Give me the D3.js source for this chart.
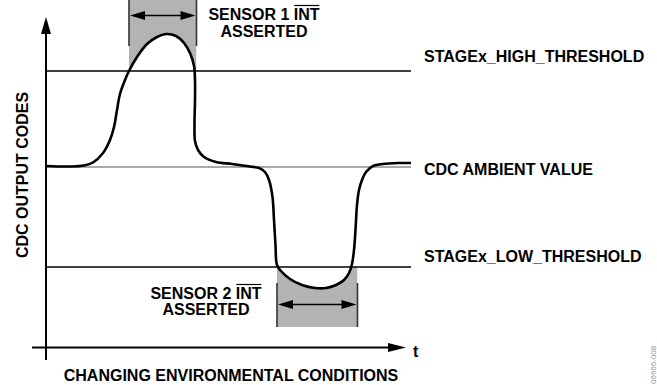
<!DOCTYPE html>
<html>
<head>
<meta charset="utf-8">
<script src="https://cdn.jsdelivr.net/npm/d3@7"></script>
<style>
  html, body { margin: 0; padding: 0; background: #fff; }
  svg { display: block; }
  text { font-family: "Liberation Sans", Arial, Helvetica, sans-serif; font-weight: bold; fill: #000; }
</style>
</head>
<body>
<svg id="chart" width="657" height="385"></svg>
<script>
// ---- Data (time units, output-code units) ----
const timeDomain = [0, 365];
const codeDomain = [0, 330];
const ambientCode = 180;
const highThreshold = 276;
const lowThreshold = 80;

const curveTime = [0, 24, 38, 47, 57, 64, 68, 71, 74, 79, 83, 91, 101, 111, 120, 130, 138, 144, 148, 149, 149, 148.5, 149, 152, 158, 170, 186, 204, 213, 219, 223, 226.5, 228, 229.5, 231, 235, 244, 256, 269, 280, 290, 298, 303, 306, 308, 309.5, 311, 313, 316, 320, 327, 337, 352, 365];
const curveCode = [181, 180.5, 181.5, 184.5, 194, 207, 220, 237, 253, 267, 276, 290, 303, 310, 313, 311, 304, 294, 281, 267, 247, 222, 206, 197, 190, 185, 183, 180.5, 179, 175, 167, 150, 127, 102, 82, 76, 68, 62, 59, 59, 62, 67, 74, 83, 97, 117, 142, 157, 167, 175, 181, 183, 184, 184];

// intervals where the INT output is asserted
const sensor1Interval = [83, 150.5];
const sensor2Interval = [231, 311.5];

const labels = {
  high: "STAGEx_HIGH_THRESHOLD",
  ambient: "CDC AMBIENT VALUE",
  low: "STAGEx_LOW_THRESHOLD",
  xTitle: "CHANGING ENVIRONMENTAL CONDITIONS",
  yTitle: "CDC OUTPUT CODES",
  t: "t",
  watermark: "06666-008"
};

// ---- Scales ----
const svg = d3.select("#chart");
const x = d3.scaleLinear().domain(timeDomain).range([46, 411]);
const y = d3.scaleLinear().domain(codeDomain).range([347, 17]);

const pts = curveTime.map((t, i) => [t, curveCode[i]]);
const curveType = d3.curveCatmullRom.alpha(0.5);

const defs = svg.append("defs");

// ---- Shaded asserted regions ----
function shaded(id, interval, yTop, yBot, threshold) {
  const x0 = x(interval[0]), x1 = x(interval[1]);
  defs.append("clipPath").attr("id", id)
    .append("rect").attr("x", x0).attr("y", yTop).attr("width", x1 - x0).attr("height", yBot - yTop);
  const g = svg.append("g").attr("clip-path", `url(#${id})`);
  g.append("rect").attr("x", x0).attr("y", yTop).attr("width", x1 - x0).attr("height", yBot - yTop)
    .attr("fill", "#b3b3b3");
  const area = d3.area().curve(curveType)
    .x(d => x(d[0])).y0(y(threshold)).y1(d => y(d[1]));
  g.append("path").datum(pts).attr("d", area).attr("fill", "#fff");
}
shaded("clip1", sensor1Interval, 0, y(highThreshold), highThreshold);
shaded("clip2", sensor2Interval, y(lowThreshold), 327, lowThreshold);

// vertical markers and double arrows
function doubleArrow(interval, yTop, yBot, yArrow) {
  const x0 = x(interval[0]), x1 = x(interval[1]);
  [x0, x1].forEach(xx => svg.append("line")
    .attr("x1", xx).attr("x2", xx).attr("y1", yTop).attr("y2", yBot)
    .attr("stroke", "#333").attr("stroke-width", 1.6));
  svg.append("line").attr("x1", x0 + 8).attr("x2", x1 - 8).attr("y1", yArrow).attr("y2", yArrow)
    .attr("stroke", "#000").attr("stroke-width", 1.6);
  const L = 15, H = 4.5;
  svg.append("path").attr("d", `M${x0 + 1},${yArrow}L${x0 + 1 + L},${yArrow - H}L${x0 + 1 + L},${yArrow + H}Z`).attr("fill", "#000");
  svg.append("path").attr("d", `M${x1 - 1},${yArrow}L${x1 - 1 - L},${yArrow - H}L${x1 - 1 - L},${yArrow + H}Z`).attr("fill", "#000");
}
doubleArrow(sensor1Interval, 0, 46, 15.5);
doubleArrow(sensor2Interval, 283, 327, 304.5);

// ---- Threshold & ambient lines ----
svg.append("line").attr("x1", x(0)).attr("x2", x(365)).attr("y1", y(ambientCode)).attr("y2", y(ambientCode))
  .attr("stroke", "#aaa").attr("stroke-width", 1.8);
[highThreshold, lowThreshold].forEach(v => svg.append("line")
  .attr("x1", x(0)).attr("x2", x(365)).attr("y1", y(v)).attr("y2", y(v))
  .attr("stroke", "#000").attr("stroke-width", 1.6));

// ---- Curve ----
const line = d3.line().curve(curveType).x(d => x(d[0])).y(d => y(d[1]));
svg.append("path").datum(pts).attr("d", line)
  .attr("fill", "none").attr("stroke", "#000").attr("stroke-width", 2.6).attr("stroke-linejoin", "round");

// ---- Axes ----
svg.append("line").attr("x1", 46).attr("x2", 46).attr("y1", 30).attr("y2", 360)
  .attr("stroke", "#000").attr("stroke-width", 2);
svg.append("path").attr("d", "M46,17L41,34L51,34Z").attr("fill", "#000");
svg.append("line").attr("x1", 32).attr("x2", 392).attr("y1", 347.5).attr("y2", 347.5)
  .attr("stroke", "#000").attr("stroke-width", 2);
svg.append("path").attr("d", "M406,347.5L388,343L388,352Z").attr("fill", "#000");

// ---- Text ----
const fs = 16;
svg.append("text").attr("x", 424).attr("y", 62).attr("font-size", fs).text(labels.high);
svg.append("text").attr("x", 424).attr("y", 175).attr("font-size", fs).text(labels.ambient);
svg.append("text").attr("x", 424).attr("y", 262).attr("font-size", fs).text(labels.low);
svg.append("text").attr("x", 413).attr("y", 357).attr("font-size", fs).text(labels.t);
svg.append("text").attr("x", 231).attr("y", 381).attr("font-size", fs).attr("text-anchor", "middle").text(labels.xTitle);
svg.append("text").attr("transform", "translate(28,175) rotate(-90)").attr("font-size", fs)
  .attr("text-anchor", "middle").text(labels.yTitle);

function intLabel(cx, y1, y2, num) {
  const t = svg.append("text").attr("x", cx).attr("y", y1).attr("font-size", fs).attr("text-anchor", "middle");
  t.append("tspan").text(`SENSOR ${num} `);
  const ts = t.append("tspan").text("INT");
  const bb = ts.node().getBBox();
  svg.append("line").attr("x1", bb.x + 0.5).attr("x2", bb.x + bb.width - 0.5)
    .attr("y1", y1 - 14.5).attr("y2", y1 - 14.5).attr("stroke", "#000").attr("stroke-width", 1.2);
  svg.append("text").attr("x", cx).attr("y", y2).attr("font-size", fs).attr("text-anchor", "middle").text("ASSERTED");
}
intLabel(264, 20, 37, 1);
intLabel(206, 299, 315, 2);

svg.append("text").attr("transform", "translate(656,384) rotate(-90)")
  .attr("font-size", 8).attr("font-weight", "normal").style("font-weight", "normal")
  .attr("fill", "#999").style("fill", "#999").text(labels.watermark);
</script>
</body>
</html>
